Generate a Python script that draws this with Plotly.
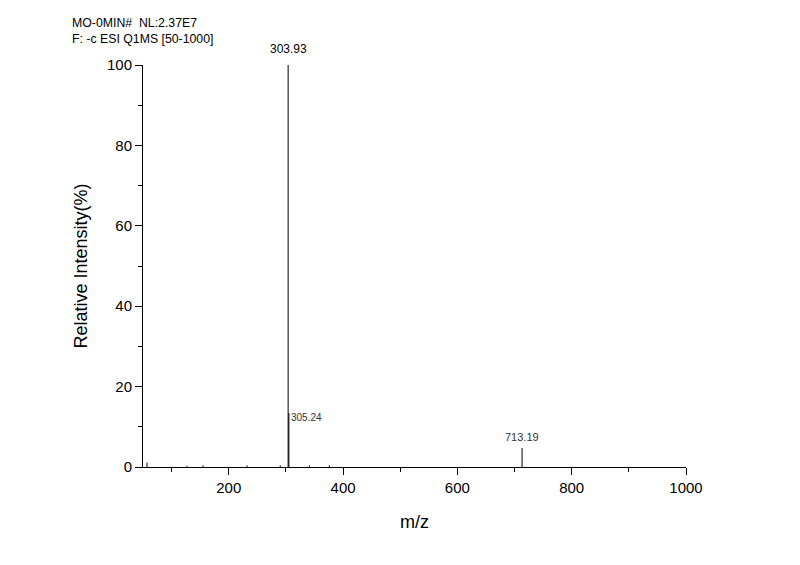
import plotly.graph_objects as go

############################################################
# DATA
############################################################

mz = [57.0, 127.0, 155.0, 232.0, 290.0, 303.93, 305.24, 341.0, 376.0, 713.19]

intensity = [1.1, 0.3, 0.4, 0.4, 0.4, 100.0, 13.4, 0.4, 0.4, 4.7]

labelled_peaks = [303.93, 305.24, 713.19]

header_lines = ["MO-0MIN#  NL:2.37E7", "F: -c ESI Q1MS [50-1000]"]

############################################################
# STICK SPECTRUM
############################################################

xs = []
ys = []
for m, i in zip(mz, intensity):
    xs += [m, m, None]
    ys += [0, i, None]

fig = go.Figure(
    go.Scatter(
        x=xs,
        y=ys,
        mode="lines",
        line=dict(color="black", width=1),
        hoverinfo="skip",
        showlegend=False
    )
)

############################################################
# PEAK LABELS
############################################################

peak_height = dict(zip(mz, intensity))

fig.add_annotation(
    x=labelled_peaks[0], y=peak_height[labelled_peaks[0]],
    text=f"{labelled_peaks[0]:.2f}", showarrow=False,
    xanchor="center", yanchor="bottom", yshift=7,
    font=dict(size=12, color="black")
)

fig.add_annotation(
    x=labelled_peaks[1], y=peak_height[labelled_peaks[1]],
    text=f"{labelled_peaks[1]:.2f}", showarrow=False,
    xanchor="left", yanchor="middle", yshift=-4,
    font=dict(size=10, color="#333333")
)

fig.add_annotation(
    x=labelled_peaks[2], y=peak_height[labelled_peaks[2]],
    text=f"{labelled_peaks[2]:.2f}", showarrow=False,
    xanchor="center", yanchor="bottom", yshift=3,
    font=dict(size=11, color="#333333")
)

# header text above the plot
fig.add_annotation(
    xref="x domain", yref="y domain",
    x=-0.1344, y=1.127, xanchor="left", yanchor="top",
    text="<br>".join(header_lines), showarrow=False, align="left",
    font=dict(size=12.3, color="black")
)

############################################################
# LAYOUT
############################################################

fig.update_layout(
    width=800,
    height=565,
    margin=dict(l=135, r=122, t=57, b=106),
    plot_bgcolor="white",
    paper_bgcolor="white",
    font=dict(family="Liberation Sans, Arial", color="black"),
    xaxis=dict(
        range=[50, 1000],
        tickvals=[200, 400, 600, 800, 1000],
        ticks="outside", ticklen=7, tickwidth=1, tickcolor="black",
        minor=dict(tickvals=[100, 300, 500, 700, 900], ticks="outside",
                   ticklen=4, tickcolor="black"),
        showline=True, linecolor="black", linewidth=1,
        showgrid=False, zeroline=False,
        tickfont=dict(size=15),
        title=dict(text="m/z", font=dict(size=18), standoff=20)
    ),
    yaxis=dict(
        range=[0, 100],
        tickvals=[0, 20, 40, 60, 80, 100],
        ticks="outside", ticklen=7, tickwidth=1, tickcolor="black",
        minor=dict(tickvals=[10, 30, 50, 70, 90], ticks="outside",
                   ticklen=4, tickcolor="black"),
        showline=True, linecolor="black", linewidth=1,
        showgrid=False, zeroline=False,
        tickfont=dict(size=15),
        title=dict(text="Relative Intensity(%)", font=dict(size=18), standoff=14)
    )
)

fig.write_html("out.html")
